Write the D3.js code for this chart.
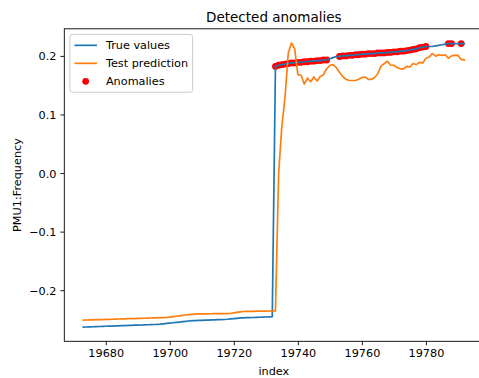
<!DOCTYPE html>
<html>
<head>
<meta charset="utf-8">
<script src="https://cdn.jsdelivr.net/npm/d3@7"></script>
<style>
  body { margin: 0; background: #fff; }
  text { font-family: "DejaVu Sans", sans-serif; fill: #000; }
</style>
</head>
<body>
<svg id="chart" width="479" height="378"></svg>
<script>
// Row index of the first sample; samples are consecutive integers.
const firstIndex = 19673;

// Measured PMU1 frequency (deviation), one value per index.
const trueValues = [
  -0.2630, -0.2628, -0.2626, -0.2624, -0.2622, -0.2620, -0.2618, -0.2616, -0.2614, -0.2612,
  -0.2610, -0.2608, -0.2606, -0.2604, -0.2602, -0.2600, -0.2598, -0.2596, -0.2594, -0.2592,
  -0.2590, -0.2588, -0.2586, -0.2584, -0.2580, -0.2574, -0.2568, -0.2562, -0.2556, -0.2550,
  -0.2544, -0.2538, -0.2532, -0.2526, -0.2520, -0.2518, -0.2516, -0.2514, -0.2512, -0.2510,
  -0.2508, -0.2506, -0.2504, -0.2502, -0.2500, -0.2496, -0.2490, -0.2485, -0.2480, -0.2474,
  -0.2472, -0.2470, -0.2468, -0.2466, -0.2464, -0.2462, -0.2460, -0.2458, -0.2455, -0.2452,
  0.182, 0.184, 0.185, 0.186, 0.187, 0.188, 0.188, 0.189, 0.189, 0.190,
  0.190, 0.191, 0.191, 0.192, 0.192, 0.193, 0.193, 0.195, 0.197, 0.199,
  0.199, 0.200, 0.200, 0.201, 0.201, 0.202, 0.202, 0.203, 0.203, 0.204,
  0.204, 0.204, 0.205, 0.205, 0.205, 0.206, 0.206, 0.207, 0.207, 0.208,
  0.208, 0.209, 0.210, 0.211, 0.212, 0.214, 0.215, 0.216, 0.216, 0.216,
  0.217, 0.218, 0.219, 0.220, 0.221, 0.221, 0.221, 0.221, 0.221, 0.221
];

// Model output on the test window, same indices.
const predictedValues = [
  -0.2511, -0.2509, -0.2508, -0.2506, -0.2504, -0.2503, -0.2501, -0.2499, -0.2497, -0.2496,
  -0.2494, -0.2492, -0.2491, -0.2489, -0.2487, -0.2485, -0.2484, -0.2482, -0.2480, -0.2479,
  -0.2477, -0.2475, -0.2473, -0.2472, -0.2470, -0.2468, -0.2466, -0.2459, -0.2452, -0.2445,
  -0.2438, -0.2431, -0.2424, -0.2417, -0.2412, -0.2408, -0.2405, -0.2404, -0.2403, -0.2403,
  -0.2402, -0.2401, -0.2400, -0.2400, -0.2399, -0.2399, -0.2398, -0.2388, -0.2378, -0.2369,
  -0.2364, -0.2363, -0.2362, -0.2360, -0.2359, -0.2358, -0.2357, -0.2356, -0.2355, -0.2354,
  -0.2353,
  0.000, 0.080, 0.130, 0.205, 0.222, 0.212, 0.168, 0.167, 0.152,
  0.162, 0.156, 0.164, 0.157, 0.165, 0.168, 0.178, 0.184, 0.185, 0.180,
  0.172, 0.165, 0.160, 0.158, 0.158, 0.158, 0.160, 0.163, 0.164, 0.160,
  0.160, 0.163, 0.170, 0.183, 0.187, 0.191, 0.184, 0.184, 0.180, 0.178,
  0.178, 0.182, 0.181, 0.187, 0.185, 0.189, 0.188, 0.196, 0.198, 0.204,
  0.1995, 0.202, 0.201, 0.202, 0.196, 0.200, 0.201, 0.201, 0.194, 0.193
];

// Indices flagged as anomalous (marked on the measured series).
const anomalyIndex = [
  19733, 19734, 19735, 19736, 19737, 19738, 19739, 19740, 19741, 19742,
  19743, 19744, 19745, 19746, 19747, 19748, 19749,
  19753, 19754, 19755, 19756, 19757, 19758, 19759, 19760, 19761, 19762,
  19763, 19764, 19765, 19766, 19767, 19768, 19769, 19770, 19771, 19772,
  19773, 19774, 19775, 19776, 19777, 19778, 19779, 19780,
  19787, 19788, 19791
];

const xTicks = [19680, 19700, 19720, 19740, 19760, 19780];
const yTicks = [-0.2, -0.1, 0.0, 0.1, 0.2];

const seriesNames = ["True values", "Test prediction", "Anomalies"];
const colors = { truth: "#1f77b4", pred: "#ff7f0e", anomaly: "#ff0000" };

// ---- layout ----
const fs = 11.25;                // base font size (px)
const plot = { left: 64.3, right: 483.4, top: 28.8, bottom: 341.3 };
const dotR = 3.4;

const index = d3.range(firstIndex, firstIndex + trueValues.length);
const truth = index.map((t, i) => ({ t, v: trueValues[i] }));
const pred = index.map((t, i) => ({ t, v: predictedValues[i] }));
const valueAt = new Map(truth.map(d => [d.t, d.v]));
const anomalies = anomalyIndex.map(t => ({ t, v: valueAt.get(t) }));

// 5% padding on both axes, like the usual plotting defaults
function padded(ext) {
  const p = (ext[1] - ext[0]) * 0.05;
  return [ext[0] - p, ext[1] + p];
}
const xExt = d3.extent(index);
const yExt = d3.extent(trueValues.concat(predictedValues));

const x = d3.scaleLinear().domain(padded(xExt)).range([plot.left, plot.right]);
const y = d3.scaleLinear().domain(padded(yExt)).range([plot.bottom, plot.top]);

const svg = d3.select("#chart");
svg.append("rect").attr("width", 479).attr("height", 378).attr("fill", "#fff");

const clipId = "plot-clip";
svg.append("clipPath").attr("id", clipId)
  .append("rect")
  .attr("x", plot.left).attr("y", plot.top)
  .attr("width", plot.right - plot.left).attr("height", plot.bottom - plot.top);

const body = svg.append("g").attr("clip-path", `url(#${clipId})`);

// anomalies sit underneath the lines
body.append("g").selectAll("circle")
  .data(anomalies)
  .join("circle")
  .attr("cx", d => x(d.t))
  .attr("cy", d => y(d.v))
  .attr("r", dotR)
  .attr("fill", colors.anomaly);

const line = d3.line().x(d => x(d.t)).y(d => y(d.v));

body.append("path").datum(truth)
  .attr("d", line).attr("fill", "none")
  .attr("stroke", colors.truth).attr("stroke-width", 1.7)
  .attr("stroke-linejoin", "round").attr("stroke-linecap", "square");

body.append("path").datum(pred)
  .attr("d", line).attr("fill", "none")
  .attr("stroke", colors.pred).attr("stroke-width", 1.7)
  .attr("stroke-linejoin", "round").attr("stroke-linecap", "square");

// ---- axes ----
const tickLen = 3.9, tickPad = 3.9, spineW = 0.9;

const xAxis = svg.append("g")
  .attr("transform", `translate(0,${plot.bottom})`)
  .call(d3.axisBottom(x).tickValues(xTicks).tickFormat(d3.format("d"))
    .tickSize(tickLen).tickPadding(tickPad).tickSizeOuter(0));
xAxis.select(".domain").remove();
xAxis.selectAll(".tick line").attr("stroke", "#000").attr("stroke-width", spineW);
xAxis.selectAll(".tick text")
  .attr("font-size", fs).attr("font-family", "DejaVu Sans")
  .attr("dy", null).attr("y", tickLen + tickPad + 8.3);

const yAxis = svg.append("g")
  .attr("transform", `translate(${plot.left},0)`)
  .call(d3.axisLeft(y).tickValues(yTicks).tickFormat(d3.format(".1f"))
    .tickSize(tickLen).tickPadding(tickPad).tickSizeOuter(0));
yAxis.select(".domain").remove();
yAxis.selectAll(".tick line").attr("stroke", "#000").attr("stroke-width", spineW);
yAxis.selectAll(".tick text")
  .attr("font-size", fs).attr("font-family", "DejaVu Sans")
  .attr("dy", "0.36em");

// spines
svg.append("rect")
  .attr("x", plot.left).attr("y", plot.top)
  .attr("width", plot.right - plot.left).attr("height", plot.bottom - plot.top)
  .attr("fill", "none").attr("stroke", "#000").attr("stroke-width", spineW);

// ---- labels ----
const cx = (plot.left + plot.right) / 2;
svg.append("text")
  .attr("x", cx).attr("y", plot.top - 6.75)
  .attr("text-anchor", "middle").attr("font-size", 13.5)
  .text("Detected anomalies");

svg.append("text")
  .attr("x", cx).attr("y", 375)
  .attr("text-anchor", "middle").attr("font-size", fs)
  .text("index");

svg.append("text")
  .attr("transform", `translate(20.5,${(plot.top + plot.bottom) / 2}) rotate(-90)`)
  .attr("text-anchor", "middle").attr("font-size", fs)
  .text("PMU1:Frequency");

// ---- legend ----
const lg = svg.append("g");
const lx = plot.left + 0.5 * fs, ly = plot.top + 0.5 * fs;
const pad = 0.4 * fs, handleLen = 2 * fs, textGap = 0.8 * fs, rowH = 18;
const frame = lg.append("rect")
  .attr("x", lx).attr("y", ly).attr("rx", 2.5).attr("ry", 2.5)
  .attr("fill", "#fff").attr("fill-opacity", 0.8)
  .attr("stroke", "#cccccc").attr("stroke-width", 1);

let maxW = 0;
seriesNames.forEach((name, i) => {
  const ry = ly + pad + 6.4 + i * rowH;
  const hx = lx + pad;
  if (i < 2) {
    lg.append("line")
      .attr("x1", hx).attr("x2", hx + handleLen)
      .attr("y1", ry).attr("y2", ry)
      .attr("stroke", i === 0 ? colors.truth : colors.pred)
      .attr("stroke-width", 1.7);
  } else {
    lg.append("circle")
      .attr("cx", hx + handleLen / 2).attr("cy", ry).attr("r", dotR)
      .attr("fill", colors.anomaly);
  }
  const t = lg.append("text")
    .attr("x", hx + handleLen + textGap).attr("y", ry)
    .attr("dy", "0.36em").attr("font-size", fs)
    .text(name);
  maxW = Math.max(maxW, t.node().getComputedTextLength());
});
frame
  .attr("width", pad * 2 + handleLen + textGap + maxW)
  .attr("height", pad * 2 + 12.8 + 2 * rowH);
</script>
</body>
</html>
